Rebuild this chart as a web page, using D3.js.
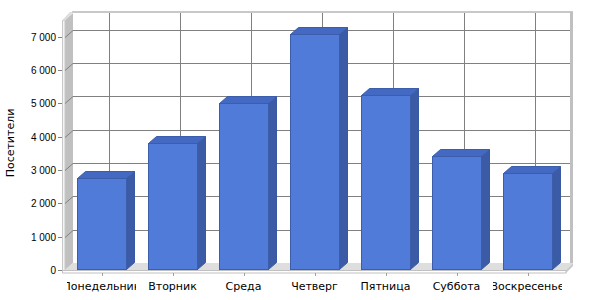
<!DOCTYPE html>
<html>
<head>
<meta charset="utf-8">
<script src="https://cdn.jsdelivr.net/npm/d3@7"></script>
<style>
  body { margin: 0; background: #fff; }
  svg { display: block; }
</style>
</head>
<body>
<svg id="chart" width="600" height="300"></svg>
<script>
// chart data
var days = ['Понедельник', 'Вторник', 'Среда', 'Четверг', 'Пятница', 'Суббота', 'Воскресенье'];
var visitors = [2760, 3800, 5010, 7080, 5260, 3420, 2920];
var yTicks = [0, 1000, 2000, 3000, 4000, 5000, 6000, 7000];
var yTitle = 'Посетители';

var svg = d3.select('#chart');
var dx = 7, dy = 7;      // wall depth
var bdx = 8, bdy = 7;    // bar depth

var x = d3.scaleBand().domain(days).range([66, 563]).padding(0);
var barW = x.bandwidth() * 0.69;
var y = d3.scaleLinear().domain([0, 7500]).range([270, 20]);
var fmt = d3.formatLocale({decimal: ',', thousands: ' ', grouping: [3], currency: ['', '']}).format(',d');

var pLeft = x.range()[0], pRight = x.range()[1];
var pTop = y(7500), pBottom = y(0);

// back wall
svg.append('rect')
    .attr('x', pLeft + dx).attr('y', pTop - dy)
    .attr('width', pRight - pLeft).attr('height', pBottom - pTop)
    .attr('fill', '#fff');
svg.append('rect')
    .attr('x', pLeft + dx - 1).attr('y', pTop - dy - 2)
    .attr('width', pRight - pLeft + 4).attr('height', 2)
    .attr('fill', '#c8c8c8');
// right wall edge
svg.append('rect')
    .attr('x', pRight + dx).attr('y', pTop - dy - 1)
    .attr('width', 3).attr('height', pBottom - pTop + 1)
    .attr('fill', '#c0c0c0');

// left wall
svg.append('polygon')
    .attr('points', [[pLeft - 1, pTop], [pLeft + dx, pTop - dy], [pLeft + dx, pBottom - dy], [pLeft - 1, pBottom]].join(' '))
    .attr('fill', '#c0c0c0');
svg.append('rect')
    .attr('x', pLeft - 3.5).attr('y', pTop + 0.5)
    .attr('width', 2.5).attr('height', pBottom - pTop + 2)
    .attr('fill', '#f4f4f4').attr('stroke', '#c8c8c8').attr('stroke-width', 1);
svg.append('polygon')
    .attr('points', [[pLeft - 4, pTop + 0.5], [pLeft + dx - 3, pTop - dy - 1], [pLeft + dx, pTop - dy - 1], [pLeft - 1, pTop + 0.5]].join(' '))
    .attr('fill', '#dcdcdc');

// floor
svg.append('polygon')
    .attr('points', [[pLeft - 1, pBottom], [pLeft + dx, pBottom - dy], [pRight + dx + 3, pBottom - dy], [pRight + 3, pBottom]].join(' '))
    .attr('fill', '#dedede');
svg.append('rect')
    .attr('x', pLeft - 3.5).attr('y', pBottom + 0.5)
    .attr('width', pRight - pLeft + 6.5).attr('height', 2.5)
    .attr('fill', '#fff').attr('stroke', '#c0c0c0').attr('stroke-width', 1);
svg.append('polygon')
    .attr('points', [[pRight + 3, pBottom], [pRight + dx + 3, pBottom - dy], [pRight + dx + 3, pBottom - dy + 3], [pRight + 3, pBottom + 3]].join(' '))
    .attr('fill', '#c8c8c8');

// horizontal grid
var grid = svg.append('g').attr('stroke', '#808080').attr('stroke-width', 1).attr('fill', 'none');
yTicks.forEach(function(t) {
    var yy = Math.round(y(t)) + 0.5;
    if (t > 0) {
        grid.append('line')
            .attr('x1', pLeft + dx).attr('x2', pRight + dx)
            .attr('y1', yy - dy).attr('y2', yy - dy);
        grid.append('line')
            .attr('x1', pLeft - 1).attr('x2', pLeft + dx)
            .attr('y1', yy).attr('y2', yy - dy);
    }
    grid.append('line')
        .attr('x1', pLeft - 8).attr('x2', pLeft - 4)
        .attr('y1', yy).attr('y2', yy);
});

// vertical grid on back wall
days.forEach(function(d) {
    var cx = Math.round(x(d) + x.bandwidth() / 2) + 0.5;
    grid.append('line')
        .attr('x1', cx + dx).attr('x2', cx + dx)
        .attr('y1', pTop - dy).attr('y2', pBottom - dy);
    svg.append('line')
        .attr('x1', cx).attr('x2', cx)
        .attr('y1', pBottom + 3).attr('y2', pBottom + 6)
        .attr('stroke', '#a0a0a0');
});

// bars
var bars = svg.append('g').selectAll('g').data(days).join('g');
bars.each(function(d, i) {
    var g = d3.select(this);
    var x0 = Math.round(x(d) + (x.bandwidth() - barW) / 2) + 0.5;
    var x1 = x0 + Math.round(barW);
    var y0 = Math.round(y(visitors[i])) + 0.5;
    var y1 = pBottom - 0.5;
    g.append('polygon')
        .attr('points', [[x1, y0], [x1 + bdx, y0 - bdy], [x1 + bdx, y1 - bdy], [x1, y1]].join(' '))
        .attr('fill', '#3b5ba6').attr('stroke', '#3a59a3');
    g.append('polygon')
        .attr('points', [[x0, y0], [x0 + bdx, y0 - bdy], [x1 + bdx, y0 - bdy], [x1, y0]].join(' '))
        .attr('fill', '#4469c2').attr('stroke', '#3c5daa');
    g.append('rect')
        .attr('x', x0).attr('y', y0)
        .attr('width', x1 - x0).attr('height', y1 - y0)
        .attr('fill', '#507bd8').attr('stroke', '#3c5daa');
});

// y labels
svg.append('g').selectAll('text').data(yTicks).join('text')
    .attr('x', pLeft - 10)
    .attr('y', function(t) { return y(t) + 4; })
    .attr('text-anchor', 'end')
    .attr('font-family', 'Liberation Sans, Arial, sans-serif')
    .attr('font-size', 10)
    .attr('fill', '#000')
    .text(function(t) { return fmt(t); });

// x labels clipped to category band
var defs = svg.append('defs');
days.forEach(function(d, i) {
    defs.append('clipPath').attr('id', 'clip' + i)
        .append('rect')
        .attr('x', x(d) + 1).attr('y', 276)
        .attr('width', x.bandwidth() - 2).attr('height', 20);
    svg.append('text')
        .attr('clip-path', 'url(#clip' + i + ')')
        .attr('x', x(d) + x.bandwidth() / 2)
        .attr('y', 290)
        .attr('text-anchor', 'middle')
        .attr('font-family', 'DejaVu Sans, sans-serif')
        .attr('font-size', 11)
        .attr('fill', '#000')
        .text(d);
});

// axis title
svg.append('text')
    .attr('transform', 'translate(14,' + 143 + ') rotate(-90)')
    .attr('text-anchor', 'middle')
    .attr('font-family', 'DejaVu Sans, sans-serif')
    .attr('font-size', 11)
    .attr('fill', '#000')
    .text(yTitle);
</script>
</body>
</html>
